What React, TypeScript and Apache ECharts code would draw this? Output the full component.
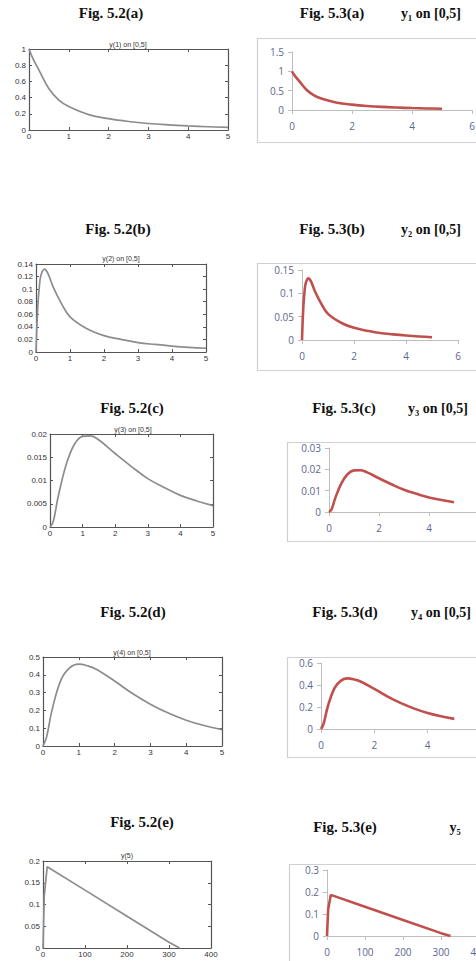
import React, { useEffect, useRef } from "react";
import * as echarts from "echarts";

// ---- data ----
const X_A = [0, 0.1, 0.25, 0.5, 0.75, 1, 1.5, 2, 2.5, 3, 3.5, 4, 4.5, 5];
const Y1 = [1, 0.88, 0.74, 0.51, 0.37, 0.29, 0.19, 0.14, 0.105, 0.08, 0.063, 0.05, 0.04, 0.032];

const X_B = [0, 0.05, 0.1, 0.15, 0.25, 0.35, 0.5, 0.75, 1, 1.5, 2, 2.5, 3, 3.5, 4, 4.5, 5];
const Y2 = [0, 0.07, 0.105, 0.123, 0.132, 0.125, 0.104, 0.077, 0.056, 0.037, 0.026, 0.02, 0.015, 0.012, 0.0095, 0.0075, 0.006];

const X_C = [0, 0.1, 0.25, 0.5, 0.75, 1, 1.25, 1.5, 2, 2.5, 3, 3.5, 4, 4.5, 5];
const Y3 = [0, 0.0012, 0.0065, 0.0135, 0.0178, 0.0195, 0.0196, 0.0187, 0.0158, 0.013, 0.0104, 0.0085, 0.0068, 0.0056, 0.0046];
const Y4 = [0, 0.05, 0.2, 0.37, 0.44, 0.46, 0.45, 0.43, 0.365, 0.295, 0.235, 0.185, 0.145, 0.115, 0.092];

const X_E = [0, 3, 10, 100, 200, 300, 325];
const Y5 = [0, 0.12, 0.187, 0.133, 0.073, 0.013, 0];

const LEFT_CAPTIONS = ["Fig. 5.2(a)", "Fig. 5.2(b)", "Fig. 5.2(c)", "Fig. 5.2(d)", "Fig. 5.2(e)"];
const RIGHT_CAPTIONS = ["Fig. 5.3(a)", "Fig. 5.3(b)", "Fig. 5.3(c)", "Fig. 5.3(d)", "Fig. 5.3(e)"];
const RIGHT_LABELS = ["y₁ on [0,5]", "y₂ on [0,5]", "y₃ on [0,5]", "y₄ on [0,5]", "y₅"];
const MATLAB_TITLES = ["y(1) on [0,5]", "y(2) on [0,5]", "y(3) on [0,5]", "y(4) on [0,5]", "y(5)"];

const SERIES_X = [X_A, X_B, X_C, X_C, X_E];
const SERIES_Y = [Y1, Y2, Y3, Y4, Y5];

// axis ranges [max, interval]
const LEFT_X = [[5, 1], [5, 1], [5, 1], [5, 1], [400, 100]];
const LEFT_Y = [[1, 0.2], [0.14, 0.02], [0.02, 0.005], [0.5, 0.1], [0.2, 0.05]];
const RIGHT_X = [[6, 2], [6, 2], [6, 2], [6, 2], [400, 100]];
const RIGHT_Y = [[1.5, 0.5], [0.15, 0.05], [0.03, 0.01], [0.6, 0.2], [0.3, 0.1]];

// ---- layout ----
const LEFT_BOX = [
  [29, 49, 199, 81],
  [36, 264, 170, 88],
  [50, 434, 163, 93],
  [43, 657, 179, 89],
  [43, 861, 168, 87],
];
const LEFT_TITLE_POS = [[128, 44], [121, 258], [133, 429], [132, 652], [127, 855]];
const LEFT_CAPTION_POS = [[111, 13], [118, 229], [132, 408], [133, 612], [142, 822]];
const RIGHT_GRID = [
  [292, 52, 180, 58],
  [302, 270, 156, 70],
  [329, 448, 150, 64],
  [321, 663, 160, 66],
  [327, 870, 152, 66],
];
const RIGHT_FRAME = [
  [257, 38, 240, 104],
  [257, 263, 240, 107],
  [287, 442, 220, 99],
  [287, 657, 220, 100],
  [289, 864, 220, 110],
];
const RIGHT_CAPTION_POS = [[332, 13], [332, 229], [344, 408], [345, 612], [345, 827]];
const RIGHT_LABEL_POS = [[431, 13], [431, 229], [438, 408], [441, 612], [455, 827]];

export default function App() {
  const ref = useRef<HTMLDivElement>(null);
  useEffect(() => {
    document.body.style.margin = "0";
    if (!ref.current) return;
    const chart = echarts.init(ref.current, undefined, { renderer: "svg" });

    const grid: any[] = [];
    const xAxis: any[] = [];
    const yAxis: any[] = [];
    const series: any[] = [];
    const graphic: any[] = [];

    const boxColor = "#555";
    const mLabel = { fontSize: 8, color: "#333", fontFamily: "Liberation Sans, Arial, sans-serif" };
    const eLabel = { fontSize: 10, color: "#5d6690", fontFamily: "Open Sans, Lato, sans-serif" };

    const mAxis = (extra: any) => ({
      type: "value",
      axisLine: { show: true, onZero: false, lineStyle: { color: boxColor, width: 1.2 } },
      axisTick: { show: true, inside: true, length: 3, lineStyle: { color: boxColor } },
      splitLine: { show: false },
      ...extra,
    });

    for (let i = 0; i < 5; i++) {
      const data = SERIES_X[i].map((x, k) => [x, SERIES_Y[i][k]]);
      // ---- MATLAB style (left) ----
      const [l, t, w, h] = LEFT_BOX[i];
      const g = grid.length;
      grid.push({ left: l, top: t, width: w, height: h, containLabel: false, outerBoundsMode: "none" });
      const xb = xAxis.length;
      xAxis.push(mAxis({ gridIndex: g, position: "bottom", min: 0, max: LEFT_X[i][0], interval: LEFT_X[i][1], axisLabel: { ...mLabel, margin: 2 } }));
      xAxis.push(mAxis({ gridIndex: g, position: "top", min: 0, max: LEFT_X[i][0], interval: LEFT_X[i][1], axisLabel: { show: false } }));
      const yb = yAxis.length;
      yAxis.push(mAxis({ gridIndex: g, position: "left", min: 0, max: LEFT_Y[i][0], interval: LEFT_Y[i][1], axisLabel: { ...mLabel, margin: 3 } }));
      yAxis.push(mAxis({ gridIndex: g, position: "right", min: 0, max: LEFT_Y[i][0], interval: LEFT_Y[i][1], axisLabel: { show: false } }));
      series.push({
        type: "line", xAxisIndex: xb, yAxisIndex: yb, data, showSymbol: false,
        smooth: i === 4 ? false : 0.4,
        lineStyle: { color: "#8c8c8c", width: 1.7 }, clip: true,
      });

      // ---- Excel style (right) ----
      const [rl, rt, rw, rh] = RIGHT_GRID[i];
      const rg = grid.length;
      grid.push({ left: rl, top: rt, width: rw, height: rh, containLabel: false, outerBoundsMode: "none" });
      const rxi = xAxis.length;
      xAxis.push({
        type: "value", gridIndex: rg, min: 0, max: RIGHT_X[i][0], interval: RIGHT_X[i][1],
        axisLine: { show: true, onZero: false, lineStyle: { color: "#bdbdbd", width: 1 } },
        axisTick: { show: true, inside: false, length: 4, lineStyle: { color: "#bdbdbd" } },
        axisLabel: { ...eLabel, margin: 11 },
        splitLine: { show: false },
      });
      const ryi = yAxis.length;
      yAxis.push({
        type: "value", gridIndex: rg, min: 0, max: RIGHT_Y[i][0], interval: RIGHT_Y[i][1],
        axisLine: { show: true, onZero: false, lineStyle: { color: "#bdbdbd", width: 1 } },
        axisTick: { show: true, inside: false, length: 4, lineStyle: { color: "#bdbdbd" } },
        axisLabel: { ...eLabel, margin: 8 },
        splitLine: { show: false },
      });
      series.push({
        type: "line", xAxisIndex: rxi, yAxisIndex: ryi, data, showSymbol: false,
        smooth: i === 4 ? false : 0.4,
        lineStyle: { color: "#c0504d", width: 2.6 }, clip: false,
      });

      // ---- texts and frames ----
      const [fx, fy, fw, fh] = RIGHT_FRAME[i];
      graphic.push({
        type: "rect", shape: { x: fx + 0.5, y: fy + 0.5, width: fw, height: fh }, z: -1,
        style: { fill: "#fff", stroke: "#d0d0d4", lineWidth: 1.2 }, silent: true,
      });
      const capFont = { fontFamily: "Liberation Serif, Times New Roman, serif", fontWeight: "bold", fill: "#111" };
      graphic.push({
        type: "text", x: LEFT_CAPTION_POS[i][0], y: LEFT_CAPTION_POS[i][1],
        style: { text: LEFT_CAPTIONS[i], ...capFont, fontSize: 15, align: "center", verticalAlign: "middle" },
      });
      graphic.push({
        type: "text", x: RIGHT_CAPTION_POS[i][0], y: RIGHT_CAPTION_POS[i][1],
        style: { text: RIGHT_CAPTIONS[i], ...capFont, fontSize: 15, align: "center", verticalAlign: "middle" },
      });
      graphic.push({
        type: "text", x: RIGHT_LABEL_POS[i][0], y: RIGHT_LABEL_POS[i][1],
        style: { text: RIGHT_LABELS[i], ...capFont, fontSize: 14, align: "center", verticalAlign: "middle" },
      });
      graphic.push({
        type: "text", x: LEFT_TITLE_POS[i][0], y: LEFT_TITLE_POS[i][1],
        style: { text: MATLAB_TITLES[i], fontSize: 7, fill: "#333", fontFamily: "Liberation Sans, Arial, sans-serif", align: "center", verticalAlign: "middle" },
      });
    }

    chart.setOption({
      animation: false,
      backgroundColor: "#fff",
      grid, xAxis, yAxis, series, graphic,
    });
    return () => chart.dispose();
  }, []);
  return <div ref={ref} style={{ width: 476, height: 961 }} />;
}
